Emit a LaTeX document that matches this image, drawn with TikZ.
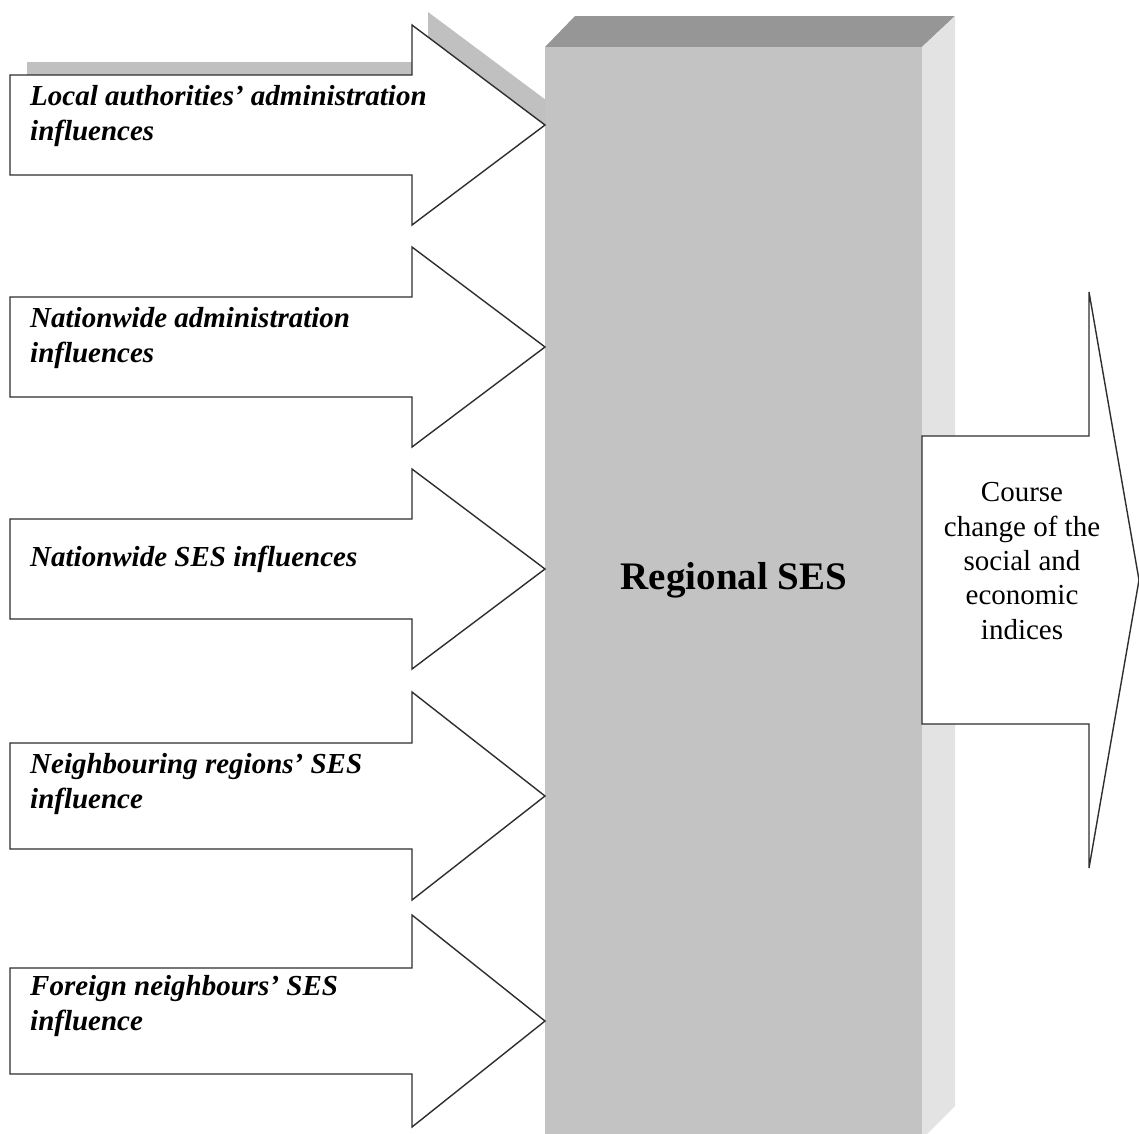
\documentclass[tikz,border=0pt]{standalone}
\usepackage{fontspec}
\setmainfont{Liberation Serif}
\definecolor{boxfront}{HTML}{C3C3C3}
\definecolor{boxtop}{HTML}{969696}
\definecolor{boxside}{HTML}{E3E3E3}
\definecolor{shadowgray}{HTML}{C0C0C0}
\definecolor{edgegray}{HTML}{2E2E2E}
\newcommand{\inarrowpath}[3]{(10,#1-#2) -- (412,#1-#2) -- (412,#1-#3) -- (545,#1) -- (412,#1+#3) -- (412,#1+#2) -- (10,#1+#2) -- cycle}
\begin{document}
\begin{tikzpicture}[x=1pt,y=-1pt,
  arrowshape/.style={draw=edgegray,fill=white,line width=1.4pt,line join=miter},
  inlabel/.style={anchor=west,align=left,inner sep=0pt,font=\fontsize{29}{35}\selectfont\bfseries\itshape},
  outlabel/.style={align=center,inner sep=0pt,font=\fontsize{29}{34.3}\selectfont}]
\useasboundingbox (0,0) rectangle (1139,1133);
\clip (0,0) rectangle (1139,1133);
% shadow of first arrow
\fill[shadowgray] (27,62) -- (428,62) -- (428,12) -- (562,112) -- (428,212) -- (428,162) -- (27,162) -- cycle;
% 3D box
\fill[boxtop] (545,47) -- (575,16) -- (955,16) -- (922,47) -- cycle;
\fill[boxside] (922,47) -- (955,16) -- (955,1106) -- (922,1139) -- cycle;
\fill[boxfront] (545,47) rectangle (922,1140);
\node[font=\fontsize{39}{44}\selectfont\bfseries] (ses) at (734,580) {Regional SES};
% incoming arrows
\draw[arrowshape] \inarrowpath{125}{50}{100};
\draw[arrowshape] \inarrowpath{347}{50}{100};
\draw[arrowshape] \inarrowpath{569}{50}{100};
\draw[arrowshape] \inarrowpath{796}{53}{104};
\draw[arrowshape] \inarrowpath{1021}{53}{106};
\node[inlabel] (l1) at (30,116) {Local authorities’ administration\\influences};
\node[inlabel] (l2) at (30,338) {Nationwide administration\\influences};
\node[inlabel] (l3) at (30,559) {Nationwide SES influences};
\node[inlabel] (l4) at (30,784) {Neighbouring regions’ SES\\influence};
\node[inlabel] (l5) at (30,1006) {Foreign neighbours’ SES\\influence};
% outgoing arrow
\draw[arrowshape] (922,436) -- (1089,436) -- (1089,292) -- (1139,580) -- (1089,868) -- (1089,724) -- (922,724) -- cycle;
\node[outlabel] (out) at (1022,561) {Course\\change of the\\social and\\economic\\indices};
\end{tikzpicture}
\end{document}
